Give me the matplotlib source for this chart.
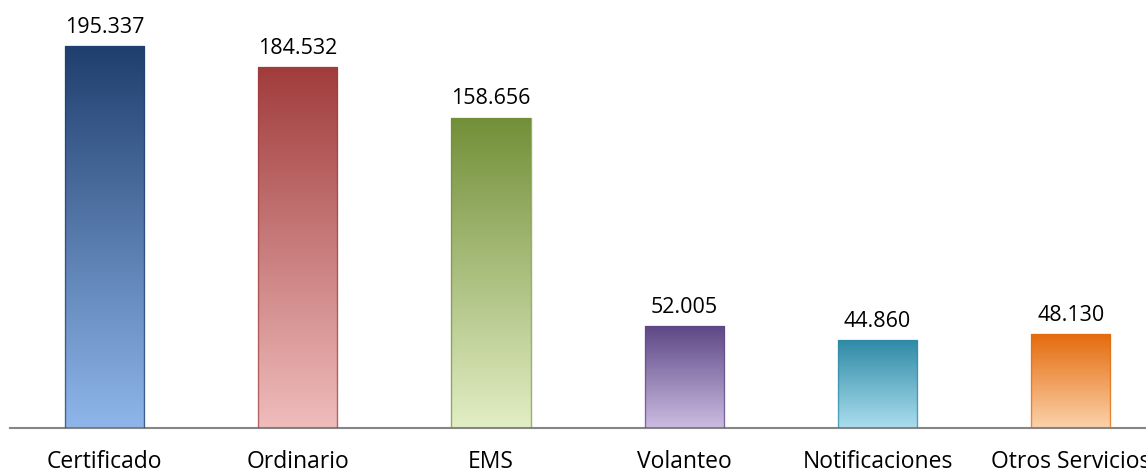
import matplotlib
matplotlib.use("Agg")
import matplotlib.pyplot as plt
import numpy as np
from matplotlib.colors import LinearSegmentedColormap

categories = ["Certificado", "Ordinario", "EMS", "Volanteo", "Notificaciones", "Otros Servicios"]
values = [195.337, 184.532, 158.656, 52.005, 44.860, 48.130]
labels = ["195.337", "184.532", "158.656", "52.005", "44.860", "48.130"]
top_colors = ["#1F3F6E", "#A13C3C", "#728F38", "#5E4886", "#2F8AA6", "#E46A0C"]
bottom_colors = ["#8FB6EA", "#F0BCBC", "#E2EEC4", "#CBBCE2", "#ABDEEE", "#FCD2AA"]

plt.rcParams['font.family'] = ['Open Sans', 'DejaVu Sans']

fig = plt.figure(figsize=(11.46, 4.74), dpi=100)
ax = fig.add_axes([10/1146, (474-428)/474, 1136/1146, (428-10)/474])

x = np.arange(len(categories))
bars = ax.bar(x, values, width=0.41, facecolor="none", edgecolor="none", zorder=2)

ymax = 195.337 * (428 - 10) / (428 - 46)
ax.set_ylim(0, ymax)
ax.set_xlim(-0.49, 5.39)

grad = np.linspace(0, 1, 256).reshape(-1, 1)
for rect, tc, bc, lab in zip(bars, top_colors, bottom_colors, labels):
    x0, w, h = rect.get_x(), rect.get_width(), rect.get_height()
    cmap = LinearSegmentedColormap.from_list("g", [bc, tc])
    im = ax.imshow(grad, cmap=cmap, extent=[x0, x0 + w, 0, h], origin="lower",
                   aspect="auto", zorder=2, interpolation="bicubic")
    im.set_clip_path(rect)
    ax.add_patch(plt.Rectangle((x0, 0), w, h, facecolor="none",
                               edgecolor=tc, linewidth=1.0, alpha=0.7, zorder=3))
    ax.annotate(lab, (x0 + w / 2, h), xytext=(0, 6), textcoords="offset points",
                ha="center", va="bottom", fontsize=15.5, color="#000000")

for s in ["top", "right", "left"]:
    ax.spines[s].set_visible(False)
ax.spines["bottom"].set_color("#868686")
ax.spines["bottom"].set_linewidth(1.5)
ax.set_yticks([])
ax.set_xticks(x)
ax.set_xticklabels(categories, fontsize=16.5)
ax.tick_params(axis="x", length=0, pad=16)

fig.savefig("out.png", dpi=100)
